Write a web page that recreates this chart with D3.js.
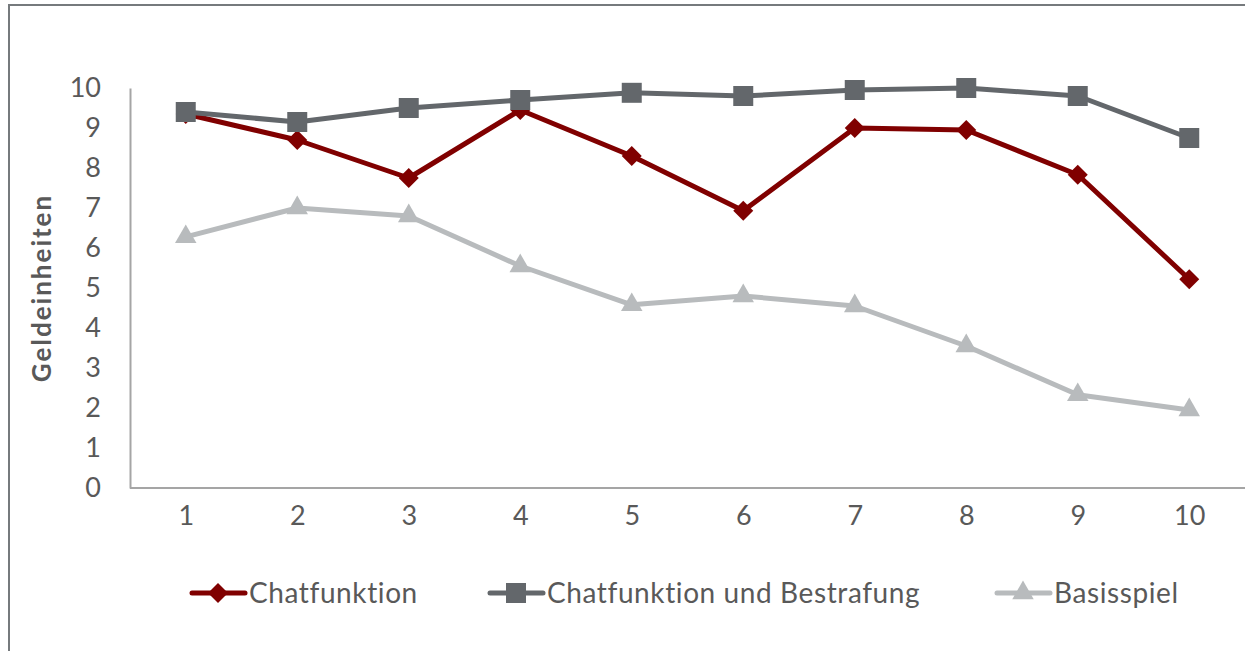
<!DOCTYPE html>
<html>
<head>
<meta charset="utf-8">
<script src="https://cdn.jsdelivr.net/npm/d3@7"></script>
<style>
  html, body { margin: 0; padding: 0; background: #fff; }
  svg { display: block; }
  text { font-family: Lato, "Open Sans", sans-serif; fill: #595959; }
</style>
</head>
<body>
<div id="chart"></div>
<script>
// rounds 1..10
const rounds = [1, 2, 3, 4, 5, 6, 7, 8, 9, 10];
const chatfunktion = [9.35, 8.7, 7.75, 9.45, 8.3, 6.93, 9.0, 8.95, 7.83, 5.22];
const chatBestrafung = [9.4, 9.15, 9.5, 9.7, 9.88, 9.8, 9.95, 10.0, 9.8, 8.75];
const basisspiel = [6.28, 7.0, 6.8, 5.55, 4.58, 4.8, 4.55, 3.55, 2.33, 1.95];
const yTicks = [0, 1, 2, 3, 4, 5, 6, 7, 8, 9, 10];
const seriesNames = ['Chatfunktion', 'Chatfunktion und Bestrafung', 'Basisspiel'];

const width = 1245, height = 651;
const margin = { top: 88, right: 0, bottom: 163, left: 130 };

const svg = d3.select('#chart').append('svg')
    .attr('width', width)
    .attr('height', height);

// outer frame (only top and left edges are visible in the picture)
svg.append('rect')
    .attr('x', 9).attr('y', 5)
    .attr('width', width + 20).attr('height', height + 20)
    .attr('fill', 'none')
    .attr('stroke', '#767a7d')
    .attr('stroke-width', 2);

const xScale = d3.scalePoint()
    .domain(rounds)
    .range([margin.left, width - margin.right])
    .padding(0.5);

const yScale = d3.scaleLinear()
    .domain([0, 10])
    .range([height - margin.bottom, margin.top]);

// axes
const xAxis = d3.axisBottom(xScale).tickSize(0).tickPadding(18);
const yAxis = d3.axisLeft(yScale).tickValues(yTicks).tickSize(0).tickPadding(29);

const xAxisGroup = svg.append('g')
    .attr('transform', `translate(0,${yScale(0)})`)
    .call(xAxis);
const yAxisGroup = svg.append('g')
    .attr('transform', `translate(${margin.left},0)`)
    .call(yAxis);

[xAxisGroup, yAxisGroup].forEach(g => {
    g.select('.domain').attr('stroke', '#a5a5a5').attr('stroke-width', 2);
    g.selectAll('text')
        .style('font-family', 'Lato, "Open Sans", sans-serif')
        .attr('font-size', 27)
        .attr('fill', '#595959');
});
// make x domain run to the right edge
xAxisGroup.select('.domain').attr('d', `M${margin.left},0H${width}`);

// y axis title
svg.append('text')
    .attr('transform', `translate(51,${yScale(5)}) rotate(-90)`)
    .attr('text-anchor', 'middle')
    .attr('font-size', 26)
    .attr('font-weight', 'bold')
    .attr('letter-spacing', 2)
    .text('Geldeinheiten');

// excel-like diamond: a square turned 45 degrees
const diamond = {
    draw(context, size) {
        const r = Math.sqrt(size / 2);
        context.moveTo(0, -r);
        context.lineTo(r, 0);
        context.lineTo(0, r);
        context.lineTo(-r, 0);
        context.closePath();
    }
};

const series = [
    { name: seriesNames[0], values: chatfunktion, color: '#800000', marker: diamond, size: 200 },
    { name: seriesNames[1], values: chatBestrafung, color: '#63676b', marker: d3.symbolSquare, size: 400 },
    { name: seriesNames[2], values: basisspiel, color: '#b8bbbd', marker: d3.symbolTriangle, size: 200 },
];

const lineFunc = d3.line()
    .x((d, i) => xScale(rounds[i]))
    .y(d => yScale(d));

// red sits under the dark gray line
const drawOrder = [2, 0, 1];
drawOrder.forEach(k => {
    const s = series[k];
    const g = svg.append('g');
    g.append('path')
        .datum(s.values)
        .attr('d', lineFunc)
        .attr('fill', 'none')
        .attr('stroke', s.color)
        .attr('stroke-width', 5)
        .attr('stroke-linejoin', 'round');
    g.selectAll('.marker')
        .data(s.values)
        .join('path')
        .attr('class', 'marker')
        .attr('transform', (d, i) => `translate(${xScale(rounds[i])},${yScale(d)})`)
        .attr('d', d3.symbol().type(s.marker).size(s.size))
        .attr('fill', s.color);
});

// legend
const legendY = 593;
const legendX = [190, 488, 995];
series.forEach((s, i) => {
    const g = svg.append('g').attr('transform', `translate(${legendX[i]},${legendY})`);
    g.append('line')
        .attr('x1', 2).attr('x2', 55)
        .attr('stroke', s.color)
        .attr('stroke-width', 5)
        .attr('stroke-linecap', 'round');
    g.append('path')
        .attr('transform', 'translate(28,0)')
        .attr('d', d3.symbol().type(s.marker).size(s.size))
        .attr('fill', s.color);
    g.append('text')
        .attr('x', 59)
        .attr('dy', '0.35em')
        .attr('font-size', 28)
        .attr('letter-spacing', 0.6)
        .text(s.name);
});
</script>
</body>
</html>
